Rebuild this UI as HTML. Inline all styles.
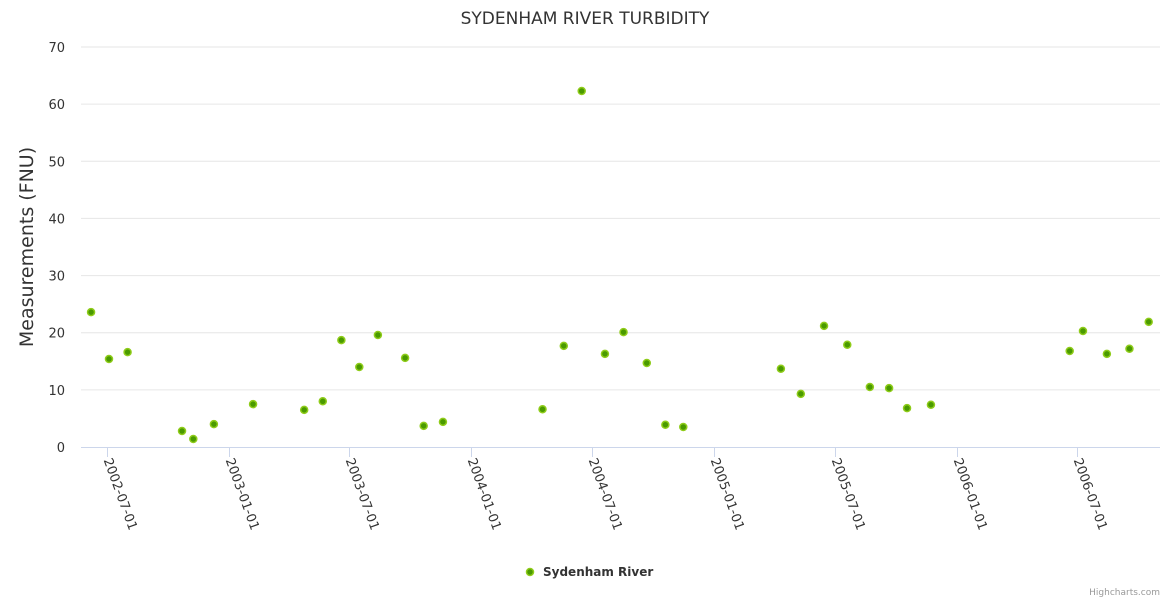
<!DOCTYPE html>
<html><head><meta charset="utf-8"><style>
body{margin:0;background:#fff;font-family:"Liberation Sans","DejaVu Sans",sans-serif}
svg text{font-family:"DejaVu Sans","Liberation Sans",sans-serif}
</style></head><body>
<svg id="chart" width="1170" height="600" xmlns="http://www.w3.org/2000/svg">
<rect width="1170" height="600" fill="#fff"/>
<text x="585" y="24" text-anchor="middle" font-size="17" fill="#333">SYDENHAM RIVER TURBIDITY</text>
<text transform="translate(33,247) rotate(-90)" text-anchor="middle" font-size="19" fill="#333">Measurements (FNU)</text>
<g id="grid"></g>
<g id="xaxis"></g>
<g id="pts"></g>
<g>
<circle cx="530" cy="572" r="3.5" fill="#4a9a00" stroke="#8fcc1a" stroke-width="1.5"/>
<text x="543" y="576" font-size="12" font-weight="bold" fill="#333">Sydenham River</text>
</g>
<text x="1160" y="595" text-anchor="end" font-size="9" fill="#999">Highcharts.com</text>
</svg>
<script>
const dates=["2002-06-07","2002-07-04","2002-08-01","2002-10-22","2002-11-08","2002-12-09","2003-02-06","2003-04-24","2003-05-22","2003-06-19","2003-07-16","2003-08-13","2003-09-23","2003-10-21","2003-11-19","2004-04-17","2004-05-19","2004-06-15","2004-07-20","2004-08-17","2004-09-21","2004-10-19","2004-11-15","2005-04-11","2005-05-11","2005-06-15","2005-07-20","2005-08-23","2005-09-21","2005-10-18","2005-11-23","2006-06-20","2006-07-10","2006-08-15","2006-09-18","2006-10-17"];
const values=[23.6,15.4,16.6,2.8,1.4,4.0,7.5,6.5,8.0,18.7,14.0,19.6,15.6,3.7,4.4,6.6,17.7,62.3,16.3,20.1,14.7,3.9,3.5,13.7,9.3,21.2,17.9,10.5,10.3,6.8,7.4,16.8,20.3,16.3,17.2,21.9];
const yTicks=[0,10,20,30,40,50,60,70];
const xTicks=["2002-07-01","2003-01-01","2003-07-01","2004-01-01","2004-07-01","2005-01-01","2005-07-01","2006-01-01","2006-07-01"];
const NS="http://www.w3.org/2000/svg";
const t0=Date.UTC(2002,6,1),t1=Date.UTC(2006,6,1);
function ms(s){const p=s.split('-');return Date.UTC(+p[0],+p[1]-1,+p[2]);}
function xs(s){return 107+(ms(s)-t0)/(t1-t0)*(1077-107);}
function ys(v){return 447-v/70*400;}
function mk(tag,a,parent){const e=document.createElementNS(NS,tag);for(const k in a)e.setAttribute(k,a[k]);parent.appendChild(e);return e;}
const grid=document.getElementById('grid');
yTicks.forEach(v=>{
 if(v>0){const l=mk('line',{x1:81,x2:1160,y1:ys(v),y2:ys(v),stroke:'#e6e6e6','stroke-width':1},grid);
 
 }
 const t=mk('text',{x:65,y:ys(v)+5,'text-anchor':'end','font-size':13,fill:'#333'},grid);
 
 
 t.textContent=v;
});
const xa=document.getElementById('xaxis');
mk('line',{x1:81,x2:1160,y1:447.5,y2:447.5,stroke:'#ccd6eb','stroke-width':1},xa);
xTicks.forEach(d=>{
 const x=Math.round(xs(d))+0.5;
 const tk=mk('line',{x1:x,x2:x,y1:447,y2:457,stroke:'#ccd6eb','stroke-width':1},xa);
 
 
 const t=mk('text',{transform:`translate(${x-4},${460}) rotate(70)`,'font-size':13,fill:'#333'},xa);
 
 
 t.textContent=d;
});
const pts=document.getElementById('pts');
dates.forEach((d,i)=>{
 const c=mk('circle',{cx:xs(d),cy:ys(values[i]),r:3.5,fill:'#4a9a00',stroke:'#8fcc1a','stroke-width':1.5},pts);
 
 
});
</script>
</body></html>
